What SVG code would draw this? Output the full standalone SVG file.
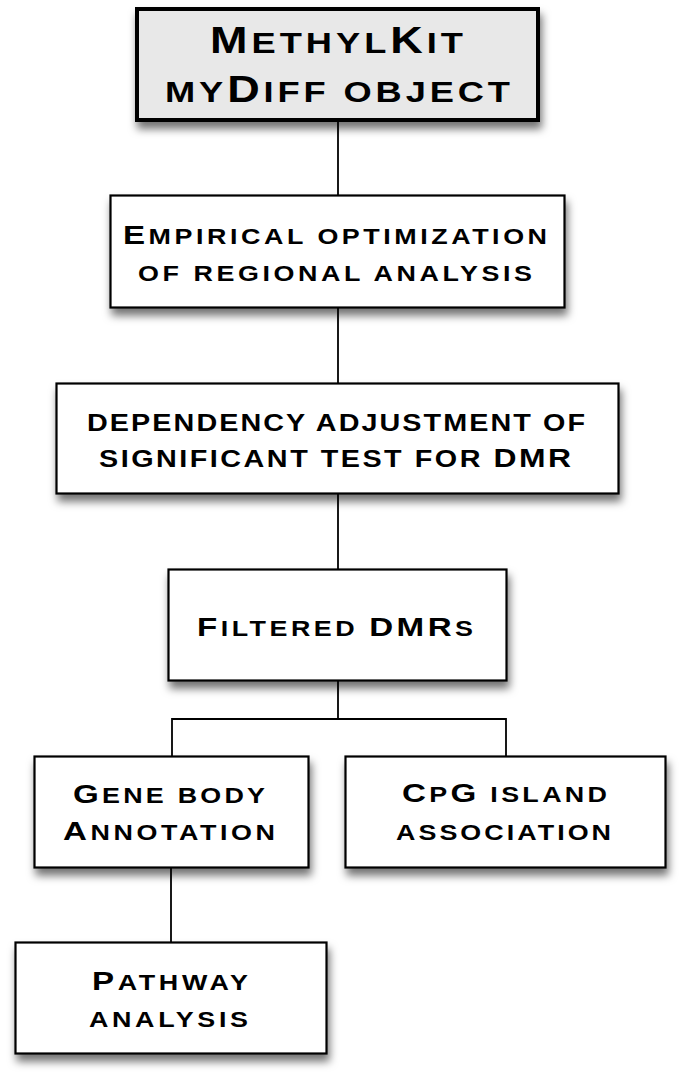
<svg xmlns="http://www.w3.org/2000/svg" width="685" height="1081" viewBox="0 0 685 1081">
<defs>
<filter id="sh" x="-10%" y="-20%" width="125%" height="160%">
<feDropShadow dx="2" dy="7" stdDeviation="4" flood-color="#000" flood-opacity="0.55"/>
</filter>
<style>
.box{fill:#fff;stroke:#000;stroke-width:2.2;filter:url(#sh)}
.top{fill:#e8e8e8;stroke:#000;stroke-width:4;filter:url(#sh)}
.conn{stroke:#000;stroke-width:1.8;fill:none}
text{font-family:"Liberation Sans",Arial,sans-serif;font-weight:bold;fill:#000;font-size:21.5px}
.c{font-size:26.5px}
.t1{font-size:29px}
.t1 .c{font-size:36px}
.t3{font-size:23px}
.t3 .c{font-size:25.5px}
</style>
</defs>
<rect width="685" height="1081" fill="#fff"/>
<g id="connectors">
<line class="conn" x1="338" y1="121" x2="338" y2="195"/>
<line class="conn" x1="338" y1="308" x2="338" y2="383"/>
<line class="conn" x1="338" y1="494" x2="338" y2="569"/>
<path class="conn" d="M338 681 V719 M172 756 V719 H506 V756"/>
<line class="conn" x1="171" y1="868" x2="171" y2="942"/>
</g>
<g id="n1">
<rect class="top" x="137" y="9" width="401" height="111"/>
<text class="t1" transform="translate(210,53) scale(1.25,1)" textLength="202.4" lengthAdjust="spacing"><tspan class="c">M</tspan>ETHYL<tspan class="c">K</tspan>IT</text>
<text class="t1" transform="translate(165,102) scale(1.25,1)" textLength="276" lengthAdjust="spacing">MY<tspan class="c">D</tspan>IFF OBJECT</text>
</g>
<g id="n2">
<rect class="box" x="110.5" y="195.5" width="454" height="112"/>
<text transform="translate(123,244) scale(1.25,1)" textLength="339.2" lengthAdjust="spacing"><tspan class="c">E</tspan>MPIRICAL OPTIMIZATION</text>
<text transform="translate(138,281) scale(1.25,1)" textLength="315.2" lengthAdjust="spacing">OF REGIONAL ANALYSIS</text>
</g>
<g id="n3">
<rect class="box" x="56.5" y="383.5" width="562" height="110"/>
<text class="t3" transform="translate(87,431) scale(1.25,1)" textLength="398.4" lengthAdjust="spacing">DEPENDENCY ADJUSTMENT OF</text>
<text class="t3" transform="translate(99,467) scale(1.25,1)" textLength="377.6" lengthAdjust="spacing">SIGNIFICANT TEST FOR <tspan class="c">DMR</tspan></text>
</g>
<g id="n4">
<rect class="box" x="168.5" y="569.5" width="338" height="111"/>
<text transform="translate(197,636) scale(1.25,1)" textLength="220.8" lengthAdjust="spacing"><tspan class="c">F</tspan>ILTERED <tspan class="c">DMR</tspan>S</text>
</g>
<g id="n5">
<rect class="box" x="34.5" y="756.5" width="274" height="111"/>
<text transform="translate(73,803) scale(1.25,1)" textLength="153.6" lengthAdjust="spacing"><tspan class="c">G</tspan>ENE BODY</text>
<text transform="translate(63,840) scale(1.25,1)" textLength="169.6" lengthAdjust="spacing"><tspan class="c">A</tspan>NNOTATION</text>
</g>
<g id="n6">
<rect class="box" x="345.5" y="756.5" width="320" height="111"/>
<text transform="translate(402,802) scale(1.25,1)" textLength="164" lengthAdjust="spacing"><tspan class="c">C</tspan>P<tspan class="c">G</tspan> ISLAND</text>
<text transform="translate(396,840) scale(1.25,1)" textLength="172" lengthAdjust="spacing">ASSOCIATION</text>
</g>
<g id="n7">
<rect class="box" x="15.5" y="942.5" width="311" height="111"/>
<text transform="translate(92,990) scale(1.25,1)" textLength="124.8" lengthAdjust="spacing"><tspan class="c">P</tspan>ATHWAY</text>
<text transform="translate(89,1027) scale(1.25,1)" textLength="127.2" lengthAdjust="spacing">ANALYSIS</text>
</g>
</svg>
